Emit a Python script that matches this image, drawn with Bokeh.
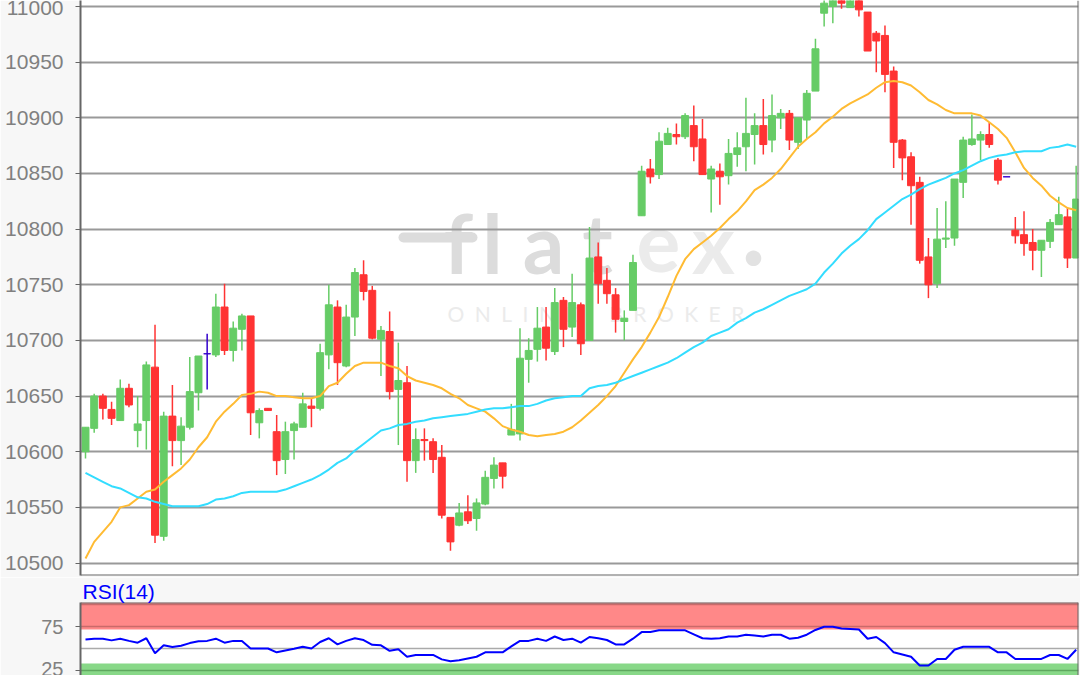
from bokeh.core.properties import value
from bokeh.embed import file_html
from bokeh.layouts import column
from bokeh.models import ColumnDataSource, FixedTicker, Range1d, Span
from bokeh.plotting import figure
from bokeh.resources import INLINE

# values
candle_open = [10600,10621,10650,10638,10628,10657,10619,10628,10676,10524,
               10632,10610,10622,10653,10688,10687,10730,10691,10710,10722,
               10626,10639,10618,10593,10619,10622,10641,10639,10687,10730,
               10677,10721,10759,10745,10701,10708,10656,10662,10592,10611,
               10609,10595,10541,10534,10546,10540,10553,10576,10590,10615,
               10616,10683,10692,10712,10690,10736,10712,10732,10700,10775,
               10754,10741,10717,10727,10812,10854,10849,10876,10885,10883,
               10893,10881,10845,10852,10848,10867,10874,10885,10893,10880,
               10900,10904,10878,10898,10924,10994,11000,11008,10999,11010,
               10995,10976,10974,10942,10880,10865,10842,10775,10751,10791,
               10792,10842,10876,10880,10885,10862,10847,10799,10795,10788,
               10781,10789,10804,10811,10774]
candle_close = [10622,10650,10639,10630,10657,10642,10625,10678,10525,10632,
                10610,10623,10654,10686,10688,10730,10691,10711,10722,10635,
                10637,10637,10592,10618,10625,10643,10639,10689,10732,10680,
                10721,10761,10744,10702,10709,10654,10664,10592,10611,10610,
                10593,10543,10519,10545,10538,10554,10577,10588,10578,10620,
                10684,10691,10711,10693,10734,10710,10734,10697,10774,10751,
                10742,10719,10720,10770,10852,10847,10879,10886,10883,10902,
                10874,10849,10854,10847,10868,10873,10886,10893,10876,10902,
                10904,10880,10900,10922,10962,11003,11006,11003,11008,10997,
                10960,10969,10939,10878,10864,10839,10772,10750,10791,10792,
                10845,10880,10881,10885,10876,10844,10847,10794,10787,10781,
                10790,10806,10813,10774,10827]
candle_high = [10622,10652,10652,10645,10665,10661,10650,10681,10714,10636,
               10660,10631,10685,10686,10706,10742,10751,10717,10724,10722,
               10639,10639,10633,10627,10627,10653,10648,10697,10750,10736,
               10732,10765,10772,10749,10713,10726,10698,10677,10621,10621,
               10612,10606,10541,10554,10561,10558,10583,10595,10590,10643,
               10711,10702,10730,10730,10747,10739,10760,10734,10802,10788,
               10765,10747,10727,10777,10857,10863,10887,10891,10895,10904,
               10911,10899,10857,10859,10881,10887,10918,10904,10917,10921,
               10908,10907,10900,10925,10971,11006,11008,11010,11010,11012,
               10995,10978,10983,10946,10881,10869,10847,10792,10819,10825,
               10845,10883,10903,10888,10896,10864,10847,10811,10816,10800,
               10790,10809,10829,10819,10857]
candle_low = [10594,10617,10629,10624,10628,10640,10604,10602,10518,10520,
              10587,10588,10620,10637,10656,10685,10687,10681,10691,10615,
              10612,10637,10579,10580,10593,10622,10622,10637,10674,10660,
              10676,10704,10736,10701,10668,10647,10606,10573,10581,10592,
              10581,10540,10511,10533,10535,10529,10552,10567,10567,10615,
              10610,10662,10681,10682,10687,10694,10703,10687,10700,10733,
              10733,10707,10700,10727,10812,10841,10845,10876,10876,10881,
              10861,10849,10815,10822,10840,10856,10852,10858,10867,10869,
              10890,10871,10872,10881,10924,10982,10985,10998,10999,10991,
              10960,10941,10923,10855,10844,10804,10769,10738,10747,10783,
              10785,10828,10875,10862,10873,10840,10847,10787,10776,10763,
              10757,10783,10804,10765,10774]
ma_fast = [10504,10519,10528,10537,10550,10552,10558,10564,10566,10573,
           10579,10585,10593,10604,10613,10627,10636,10643,10651,10652,
           10654,10653,10650,10650,10649,10648,10648,10650,10659,10662,
           10670,10677,10680,10680,10680,10677,10675,10668,10664,10662,
           10660,10657,10652,10648,10642,10639,10636,10630,10623,10620,
           10618,10615,10614,10615,10616,10618,10622,10628,10635,10642,
           10650,10659,10671,10683,10694,10707,10721,10739,10758,10773,
           10782,10788,10794,10801,10809,10816,10825,10835,10840,10846,
           10854,10864,10874,10881,10887,10895,10901,10908,10913,10917,
           10921,10927,10932,10933,10932,10929,10923,10916,10912,10907,
           10904,10904,10904,10902,10896,10890,10882,10869,10855,10846,
           10839,10830,10824,10819,10817]
ma_slow = [10581,10577,10573,10569,10567,10563,10559,10558,10555,10553,
           10551,10551,10551,10551,10553,10557,10558,10560,10563,10564,
           10564,10564,10564,10566,10569,10572,10575,10579,10584,10590,
           10594,10601,10607,10613,10619,10621,10624,10625,10627,10628,
           10630,10631,10632,10633,10634,10636,10638,10639,10639,10640,
           10641,10641,10643,10646,10648,10649,10650,10650,10657,10659,
           10660,10662,10665,10668,10671,10674,10677,10680,10684,10689,
           10694,10698,10704,10707,10710,10716,10720,10725,10728,10732,
           10736,10740,10743,10746,10751,10761,10769,10778,10785,10791,
           10799,10809,10815,10821,10827,10831,10836,10840,10843,10846,
           10850,10853,10857,10861,10864,10866,10867,10869,10870,10870,
           10870,10873,10874,10876,10874]
rsi = [60.5,61.5,61.5,59.6,61.5,59,57,62,45,54,
       52,53.5,56.5,58.5,59,61.5,57,59,59,50.4,
       50.4,50.4,46,48,50,52.3,50.4,57.7,62,55,
       59,62,60,54.6,54,47.7,49.6,41,43,43,
       43,38,36,37,39,41,46,46,46,52.7,
       59,59,61.5,59,64,60,61.5,57,63.4,62,
       60,55,55,61.5,69,69,71,71,71,71,
       66.5,62,61.5,62,64,64,66,65,64,66,
       66,61.5,62.6,66,71.4,75,75,73,72.6,72,
       61.5,63.4,56.5,46,43.5,41,31,31,38.5,38.5,
       49,52.3,52.3,52.3,52.3,46,46,38.5,38.5,38.5,
       38.5,43,43,38.5,49]
price_ticks = [10500,10550,10600,10650,10700,10750,10800,10850,10900,10950,11000]
rsi_ticks = [25,75]

FONT = "Liberation Sans"
BG = "#f7f7f7"
BORDER = "#666666"
GRID = "#999999"
UP, DOWN, DOJI = "#66cc66", "#ff3333", "#3300cc"

x_idx = list(range(len(candle_open)))
colors = [UP if c > o else DOWN if c < o else DOJI for o, c in zip(candle_open, candle_close)]
source = ColumnDataSource(dict(x=x_idx, o=candle_open, c=candle_close, h=candle_high, l=candle_low,
                               color=colors, fast=ma_fast, slow=ma_slow, rsi=rsi))

x_range = Range1d(-0.575, 114.27)

p = figure(width=1080, height=577, x_range=x_range, y_range=Range1d(10488.8, 11005.4),
           x_axis_location=None, toolbar_location=None, output_backend="svg",
           min_border_left=80, min_border_right=2, min_border_top=0, min_border_bottom=2,
           border_fill_color=BG, background_fill_color="white", outline_line_color=None)
p.xgrid.visible = False
p.ygrid.ticker = FixedTicker(ticks=price_ticks)
p.ygrid.grid_line_color = GRID
p.ygrid.grid_line_width = 2
p.yaxis.ticker = FixedTicker(ticks=price_ticks)
p.yaxis.minor_tick_line_color = None
p.yaxis.major_tick_in = 0
p.yaxis.major_tick_out = 5
p.yaxis.major_tick_line_color = BORDER
p.yaxis.major_tick_line_width = 1
p.yaxis.axis_line_color = BORDER
p.yaxis.axis_line_width = 2
p.yaxis.major_label_standoff = 12
p.yaxis.major_label_text_font = FONT
p.yaxis.major_label_text_font_size = "21px"
p.yaxis.major_label_text_color = "#808080"


# watermark sits in picture pixels, the rest goes through the scales
def wx(px):
    return (px - 85) / 8.69


def wy(py):
    return 10500 + (562.5 - py) / 1.113


p.segment([wx(403)], [wy(237)], [wx(472)], [wy(237)], line_color="#dcdcdc", line_width=10,
          line_cap="round", level="image")
p.text([wx(458), wx(492), wx(543), wx(597)], [wy(241)] * 4, text=["f", "l", "a", "t"],
       text_font=value("Lato"), text_font_style="bold", text_font_size="82px", text_color="#dcdcdc",
       text_align="center", text_baseline="alphabetic", level="image")
p.text([wx(658), wx(713)], [wy(241)] * 2, text=["e", "x"],
       text_font=value("Lato"), text_font_style="bold", text_font_size="82px", text_color="#ebebeb",
       text_align="center", text_baseline="alphabetic", level="image")
p.text([wx(753)], [wy(250)], text=["\u00b7"], text_font=value("Lato"), text_font_style="bold",
       text_font_size="82px", text_color="#e2e2e2", text_align="center", text_baseline="alphabetic",
       level="image")
p.text([wx(447)], [wy(313)], text=["\u2002".join("ONLINE") + "\u2002\u2002\u2002" + "\u2002".join("BROKER")],
       text_font=value("Lato"), text_font_size="21px", text_color="#ebebeb",
       text_align="left", text_baseline="alphabetic", level="image")

p.segment("x", "l", "x", "h", source=source, line_color="color", line_width=1.5)
p.vbar("x", top="o", bottom="c", width=0.8, source=source, fill_color="color", line_color="color", line_width=1)
p.line("x", "fast", source=source, line_color="#ffbb33", line_width=2)
p.line("x", "slow", source=source, line_color="#33ddff", line_width=2)

p.add_layout(Span(location=114.27, dimension="height", line_color=BORDER, line_width=2))
p.add_layout(Span(location=10488.8, dimension="width", line_color=BORDER, line_width=2))

r = figure(width=1080, height=98, x_range=x_range, y_range=Range1d(19.7, 102.6),
           x_axis_location=None, toolbar_location=None, output_backend="svg",
           min_border_left=80, min_border_right=2, min_border_top=0, min_border_bottom=0,
           border_fill_color=BG, background_fill_color="white", outline_line_color=None)
r.title.text = "RSI(14)"
r.title.text_font = FONT
r.title.text_font_size = "21px"
r.title.text_font_style = "normal"
r.title.text_color = "#0000ff"
r.title.offset = 2
r.title.standoff = 0
r.xgrid.visible = False
r.ygrid.visible = False
r.yaxis.ticker = FixedTicker(ticks=rsi_ticks)
r.yaxis.minor_tick_line_color = None
r.yaxis.major_tick_in = 0
r.yaxis.major_tick_out = 5
r.yaxis.major_tick_line_color = BORDER
r.yaxis.axis_line_color = BORDER
r.yaxis.axis_line_width = 2
r.yaxis.major_label_standoff = 12
r.yaxis.major_label_text_font = FONT
r.yaxis.major_label_text_font_size = "20px"
r.yaxis.major_label_text_color = "#808080"

r.hstrip(y0=[71.9], y1=[102.6], fill_color="#ff8888", line_color=None)
r.hstrip(y0=[19.7], y1=[33.1], fill_color="#88d888", line_color=None)
r.hspan(y=[50], line_color="#aaaaaa", line_width=1.5)
r.hspan(y=[100, 75], line_color="#c96a6a", line_width=1.5)
r.hspan(y=[25], line_color="#5fa85f", line_width=1.5)
r.line("x", "rsi", source=source, line_color="#0000ff", line_width=2)
r.add_layout(Span(location=102.6, dimension="width", line_color=BORDER, line_width=2))
r.add_layout(Span(location=114.27, dimension="height", line_color=BORDER, line_width=2))

page = column(p, r, spacing=0, margin=0)
open("out.html", "w").write(file_html(page, INLINE))
